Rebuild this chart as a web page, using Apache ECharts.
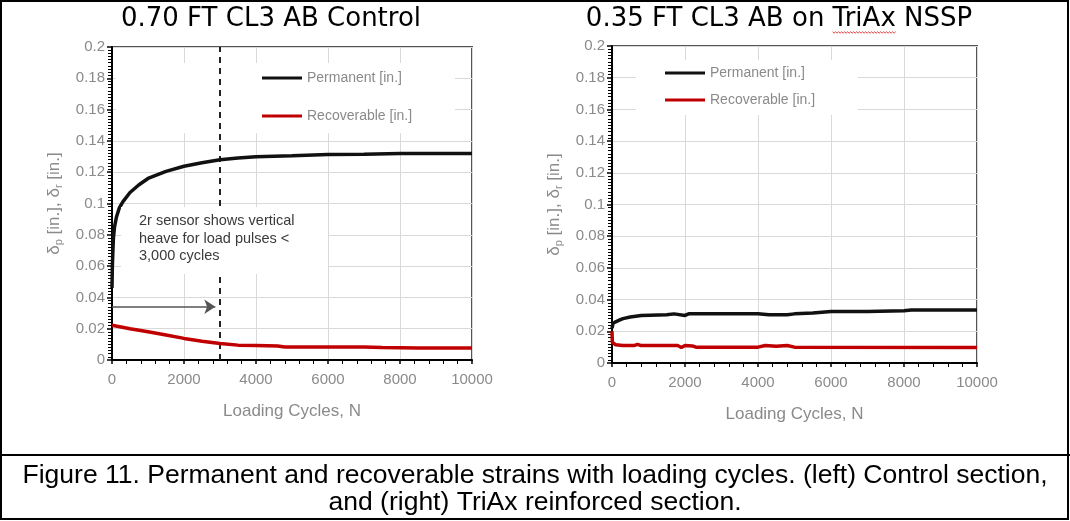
<!DOCTYPE html>
<html>
<head>
<meta charset="utf-8">
<script src="https://cdn.jsdelivr.net/npm/echarts@6/dist/echarts.min.js"></script>
<style>
  html, body { margin: 0; padding: 0; background: #fff; }
  #main { width: 1070px; height: 521px; }
</style>
</head>
<body>
<div id="main"></div>
<script>
// [loading cycles, deflection in.]
var leftPermanent = [
  [0, 0.046], [10, 0.060], [25, 0.070], [40, 0.078], [70, 0.085], [120, 0.091],
  [200, 0.097], [300, 0.101], [500, 0.107], [750, 0.112], [1000, 0.116],
  [1500, 0.1205], [2000, 0.1238], [2500, 0.126], [3000, 0.128], [3500, 0.129],
  [4000, 0.1298], [5000, 0.1305], [6000, 0.1313], [7000, 0.1315], [8000, 0.132],
  [9000, 0.132], [10000, 0.132]
];
var leftRecoverable = [
  [0, 0.0222], [500, 0.0200], [1000, 0.0180], [1500, 0.0160], [2000, 0.0138],
  [2500, 0.0120], [3000, 0.0106], [3500, 0.0095], [4000, 0.0093], [4600, 0.0090],
  [4800, 0.0083], [6000, 0.0083], [7000, 0.0083], [7500, 0.0080], [8500, 0.0077],
  [10000, 0.0077]
];
var rightPermanent = [
  [0, 0.022], [30, 0.025], [100, 0.026], [200, 0.027], [300, 0.028], [500, 0.029],
  [800, 0.030], [1500, 0.0305], [1700, 0.031], [2000, 0.030], [2100, 0.031],
  [3000, 0.031], [4000, 0.031], [4300, 0.0305], [4800, 0.0305], [5000, 0.031],
  [5500, 0.0315], [6000, 0.0325], [7000, 0.0325], [8000, 0.033], [8200, 0.0335],
  [10000, 0.0335]
];
var rightRecoverable = [
  [0, 0.020], [10, 0.013], [100, 0.0115], [300, 0.011], [600, 0.011], [700, 0.0118],
  [800, 0.011], [1800, 0.011], [1900, 0.0098], [2000, 0.011], [2200, 0.0108],
  [2300, 0.010], [4000, 0.010], [4200, 0.011], [4500, 0.0105], [4800, 0.011],
  [5000, 0.010], [10000, 0.0098]
];
var heaveLimit = 3000;       // dashed line, cycles
var arrowEnd = [2870, 0.034];
var titles = ['0.70 FT CL3 AB Control', '0.35 FT CL3 AB on TriAx NSSP'];
var seriesNames = ['Permanent [in.]', 'Recoverable [in.]'];
var noteLines = ['2r sensor shows vertical', 'heave for load pulses <', '3,000 cycles'];
var caption = ['Figure 11. Permanent and recoverable strains with loading cycles. (left) Control section,',
               'and (right) TriAx reinforced section.'];

var grey = '#8a8a8a';
var labelFont = 'Liberation Sans';

function xAxisFor(i) {
  return {
    type: 'value', gridIndex: i, min: 0, max: 10000, interval: 2000,
    name: 'Loading Cycles, N', nameLocation: 'middle', nameGap: 43,
    nameTextStyle: { color: grey, fontSize: 17, fontFamily: labelFont },
    axisLine: { show: true, lineStyle: { color: '#000', width: 2 } },
    axisTick: { show: true, length: 4, lineStyle: { color: '#000', width: 1.5 } },
    minorTick: { show: true, splitNumber: 5, length: 4, lineStyle: { color: '#000' } },
    axisLabel: { color: grey, fontSize: 15, fontFamily: labelFont, margin: 12,
                 formatter: function (v) { return String(v); } },
    splitLine: { show: true, lineStyle: { color: '#d9d9d9', width: 1 } }
  };
}
function yAxisFor(i) {
  return {
    type: 'value', gridIndex: i, min: 0, max: 0.2, interval: 0.02,
    name: '{t|δ}{s|p}{t| [in.], δ}{s|r}{t| [in.]}', nameLocation: 'middle', nameGap: 48,
    nameTextStyle: {
      color: grey, fontFamily: labelFont,
      rich: {
        t: { fontSize: 17, color: grey, fontFamily: labelFont },
        s: { fontSize: 11, color: grey, fontFamily: labelFont, padding: [9, 0, 0, 0] }
      }
    },
    axisLine: { show: true, lineStyle: { color: '#000', width: 2 } },
    axisTick: { show: true, length: 5, lineStyle: { color: '#000', width: 1.5 } },
    minorTick: { show: true, splitNumber: 10, length: 4, lineStyle: { color: '#000', width: 1 } },
    axisLabel: { color: grey, fontSize: 15, fontFamily: labelFont, margin: 7 },
    splitLine: { show: true, lineStyle: { color: '#d9d9d9', width: 1 } }
  };
}
function lineSeries(name, data, i, color) {
  return {
    name: name, type: 'line', xAxisIndex: i, yAxisIndex: i, data: data,
    showSymbol: false, symbol: 'none', smooth: false,
    lineStyle: { color: color, width: 3.5 }, itemStyle: { color: color },
    animation: false
  };
}

var series = [
  lineSeries(seriesNames[0], leftPermanent, 0, '#111'),
  lineSeries(seriesNames[1], leftRecoverable, 0, '#c00000'),
  lineSeries(seriesNames[0], rightPermanent, 1, '#111'),
  lineSeries(seriesNames[1], rightRecoverable, 1, '#c00000')
];
series[0].markLine = {
  silent: true, symbol: 'none', animation: false, z: 3,
  label: { show: false },
  lineStyle: { color: '#222', width: 2, type: [6, 5] },
  data: [{ xAxis: heaveLimit }]
};
series[1].markLine = {
  silent: true, symbol: ['none', 'arrow'], symbolSize: 11, animation: false, z: 3,
  label: { show: false },
  lineStyle: { color: '#555', width: 1.5, type: 'solid' },
  itemStyle: { color: '#000' },
  data: [[{ coord: [0, arrowEnd[1]], symbol: 'none' }, { coord: arrowEnd, symbol: 'arrow', symbolRotate: -90 }]]
};

// measure text so the spell-check squiggle sits under "TriAx" and the caption fits its width
var ctx = document.createElement('canvas').getContext('2d');
var titleFont = '26px "DejaVu Sans"';
ctx.font = titleFont;
var rightTitleX = 779;
var fullW = ctx.measureText(titles[1]).width;
var preW = ctx.measureText('0.35 FT CL3 AB on ').width;
var wordW = ctx.measureText('TriAx').width;
var sqStart = rightTitleX - fullW / 2 + preW;
var squiggle = [];
for (var k = 0; sqStart + k * 1.5 <= sqStart + wordW; k++) {
  squiggle.push([sqStart + k * 1.5, 32 + (k % 2 ? 1.2 : -0.2)]);
}
var capFont = '25px "Liberation Sans"';
ctx.font = capFont;
var capScale = 1025 / ctx.measureText(caption[0]).width;

var graphics = [
  // frame and caption divider
  { type: 'rect', shape: { x: 1, y: 1, width: 1067, height: 518 }, style: { fill: 'none', stroke: '#000', lineWidth: 2 }, z: 10 },
  { type: 'line', shape: { x1: 0, y1: 455, x2: 1070, y2: 455 }, style: { stroke: '#000', lineWidth: 2 }, z: 10 },
  // white boxes behind the legends
  { type: 'rect', shape: { x: 116, y: 63, width: 339, height: 70 }, style: { fill: '#fff' }, z: 1 },
  { type: 'rect', shape: { x: 636, y: 60, width: 222, height: 55 }, style: { fill: '#fff' }, z: 1 },
  // note box, above the dashed line
  { type: 'rect', shape: { x: 121, y: 207, width: 207, height: 67 }, style: { fill: '#fff' }, z: 8 },
  { type: 'text', x: 139, y: 221, z: 9, style: { text: noteLines[0], fill: '#3a3a3a', fontSize: 14.5, fontFamily: labelFont, verticalAlign: 'middle' } },
  { type: 'text', x: 139, y: 238.5, z: 9, style: { text: noteLines[1], fill: '#3a3a3a', fontSize: 14.5, fontFamily: labelFont, verticalAlign: 'middle' } },
  { type: 'text', x: 139, y: 256, z: 9, style: { text: noteLines[2], fill: '#3a3a3a', fontSize: 14.5, fontFamily: labelFont, verticalAlign: 'middle' } },
  // titles
  { type: 'text', x: 271, y: 19, z: 6, style: { text: titles[0], fill: '#000', font: titleFont, align: 'center', verticalAlign: 'middle' } },
  { type: 'text', x: rightTitleX, y: 19, z: 6, style: { text: titles[1], fill: '#000', font: titleFont, align: 'center', verticalAlign: 'middle' } },
  { type: 'polyline', shape: { points: squiggle }, style: { stroke: '#e04040', lineWidth: 1, fill: null }, z: 6 },
  // caption
  { type: 'text', x: 535, y: 476, scaleX: capScale, z: 6, style: { text: caption[0], fill: '#000', font: capFont, align: 'center', verticalAlign: 'middle' } },
  { type: 'text', x: 535, y: 503, scaleX: capScale, z: 6, style: { text: caption[1], fill: '#000', font: capFont, align: 'center', verticalAlign: 'middle' } }
];

var legendBase = {
  orient: 'vertical', icon: 'rect', itemWidth: 40, itemHeight: 3,
  selectedMode: false, padding: 0,
  textStyle: { color: grey, fontSize: 14, fontFamily: labelFont },
  data: seriesNames
};

var option = {
  backgroundColor: '#fff',
  animation: false,
  grid: [
    { left: 112, right: 598, top: 47, bottom: 161, show: true, borderColor: '#555', borderWidth: 2, containLabel: false },
    { left: 612, right: 93, top: 46, bottom: 158, show: true, borderColor: '#555', borderWidth: 2, containLabel: false }
  ],
  xAxis: [xAxisFor(0), xAxisFor(1)],
  yAxis: [yAxisFor(0), yAxisFor(1)],
  legend: [
    Object.assign({}, legendBase, { left: 262, top: 71, itemGap: 24 }),
    Object.assign({}, legendBase, { left: 665, top: 66, itemGap: 13 })
  ],
  graphic: graphics,
  series: series
};

var chart = echarts.init(document.getElementById('main'), null, { renderer: 'canvas' });
chart.setOption(option);
</script>
</body>
</html>
